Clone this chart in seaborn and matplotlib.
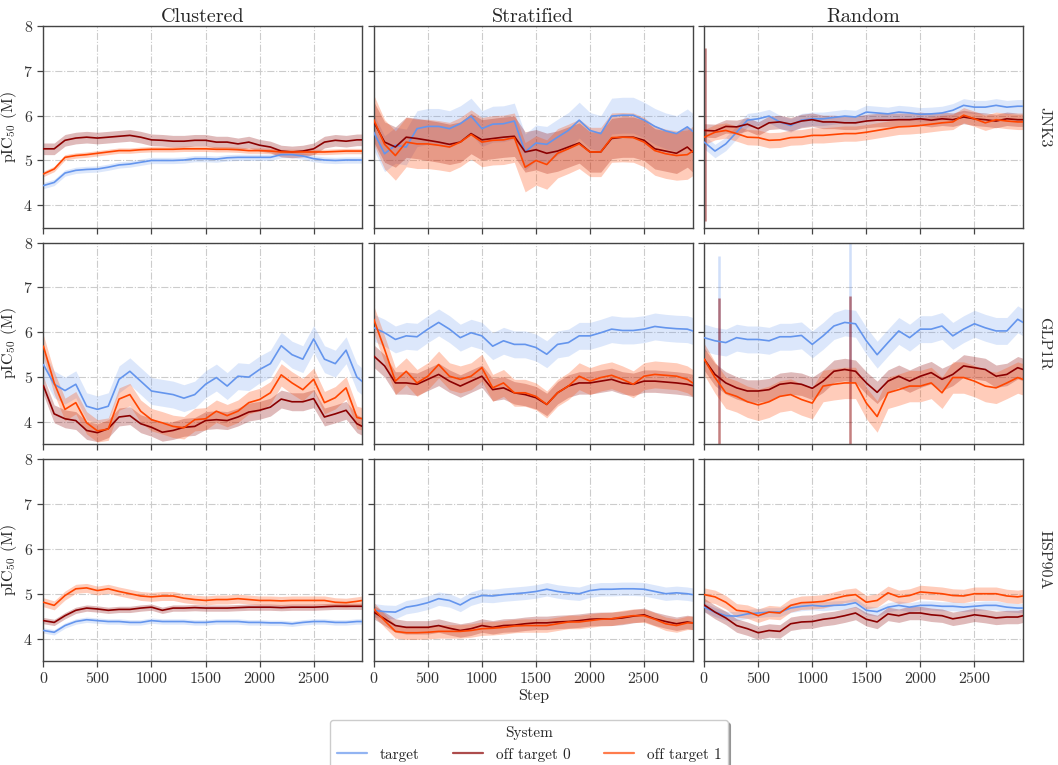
import numpy as np
import pandas as pd
import matplotlib
matplotlib.use("Agg")
import matplotlib.pyplot as plt
import seaborn as sns
from matplotlib.lines import Line2D

# ---------------- data ----------------
STEPS = list(range(0, 3000, 100)) + [2950]
SPLITS = ["Clustered", "Stratified", "Random"]
PROTEINS = ["JNK3", "GLP1R", "HSP90A"]
SYSTEMS = ["target", "off target 0", "off target 1"]
COLORS = {"target": "#6495ED", "off target 0": "#8B0000", "off target 1": "#FF4500"}

# JNK3
JNK3_CLU_T = [4.44,4.51,4.72,4.78,4.80,4.81,4.85,4.90,4.92,4.96,5.00,5.00,5.00,5.01,5.04,5.04,5.03,5.06,5.07,5.07,5.07,5.07,5.13,5.13,5.10,5.04,5.01,5.00,5.01,5.01,5.01]
JNK3_CLU_O0 = [5.26,5.26,5.45,5.50,5.52,5.50,5.52,5.54,5.56,5.52,5.46,5.45,5.43,5.43,5.45,5.45,5.41,5.41,5.37,5.41,5.34,5.30,5.21,5.19,5.21,5.26,5.41,5.45,5.43,5.46,5.46]
JNK3_CLU_O1 = [4.70,4.81,5.07,5.11,5.13,5.16,5.19,5.22,5.22,5.24,5.25,5.25,5.25,5.26,5.26,5.26,5.25,5.25,5.24,5.22,5.22,5.21,5.19,5.19,5.19,5.19,5.19,5.20,5.21,5.21,5.21]
JNK3_STR_T = [5.63,5.15,5.34,5.30,5.71,5.76,5.76,5.71,5.82,5.99,5.71,5.81,5.82,5.88,5.19,5.39,5.36,5.52,5.67,5.90,5.67,5.60,5.99,6.01,6.01,5.90,5.76,5.66,5.60,5.75,5.65]
JNK3_STR_O0 = [5.86,5.41,5.30,5.52,5.49,5.45,5.41,5.36,5.41,5.60,5.46,5.49,5.52,5.54,5.19,5.24,5.16,5.21,5.30,5.39,5.19,5.19,5.49,5.52,5.52,5.45,5.26,5.21,5.16,5.30,5.19]
JNK3_STR_O1 = [5.91,5.36,5.11,5.41,5.37,5.37,5.34,5.30,5.41,5.58,5.41,5.45,5.46,5.51,4.85,5.00,4.91,5.16,5.26,5.37,5.19,5.19,5.51,5.52,5.51,5.41,5.22,5.15,5.11,5.13,5.21]
JNK3_RND_T = [5.41,5.21,5.37,5.63,5.90,5.93,5.99,5.86,5.78,5.90,5.93,5.93,5.96,5.99,5.97,6.08,6.06,6.04,6.08,6.06,6.03,6.04,6.06,6.12,6.23,6.19,6.19,6.23,6.19,6.21,6.21]
JNK3_RND_O0 = [5.67,5.66,5.76,5.75,5.81,5.71,5.84,5.86,5.81,5.88,5.91,5.86,5.86,5.84,5.84,5.88,5.90,5.90,5.91,5.91,5.93,5.90,5.93,5.91,5.97,5.93,5.91,5.88,5.93,5.91,5.91]
JNK3_RND_O1 = [5.52,5.63,5.67,5.60,5.52,5.51,5.45,5.46,5.51,5.52,5.56,5.56,5.58,5.60,5.60,5.63,5.67,5.71,5.75,5.76,5.78,5.81,5.84,5.86,6.01,5.93,5.84,5.91,5.88,5.86,5.86]
# GLP1R
GLP1R_CLU_T = [5.28,4.84,4.70,4.84,4.35,4.28,4.35,4.95,5.13,4.91,4.69,4.65,4.61,4.53,4.61,4.84,4.99,4.80,5.02,5.00,5.17,5.30,5.70,5.50,5.40,5.85,5.40,5.30,5.60,5.00,4.90]
GLP1R_CLU_O0 = [4.81,4.18,4.07,4.03,3.81,3.76,3.85,4.11,4.14,3.96,3.88,3.77,3.81,3.88,3.90,4.03,4.05,4.03,4.11,4.22,4.26,4.33,4.51,4.45,4.45,4.52,4.11,4.18,4.26,3.96,3.90]
GLP1R_CLU_O1 = [5.69,4.87,4.28,4.43,3.98,3.80,3.84,4.51,4.61,4.24,4.05,3.98,3.90,3.87,4.05,4.07,4.24,4.14,4.24,4.43,4.50,4.65,5.05,4.87,4.72,4.95,4.43,4.54,4.76,4.10,4.07]
GLP1R_STR_T = [6.10,5.99,5.84,5.92,5.90,6.07,6.22,6.07,5.88,5.99,5.92,5.69,5.81,5.73,5.73,5.66,5.51,5.73,5.77,5.92,5.92,5.99,6.07,6.04,6.04,6.07,6.13,6.10,6.08,6.07,6.03]
GLP1R_STR_O0 = [5.47,5.25,4.87,4.87,4.84,4.95,5.06,4.91,4.80,4.91,5.02,4.72,4.76,4.65,4.61,4.54,4.39,4.65,4.80,4.87,4.87,4.91,4.95,4.87,4.84,4.91,4.91,4.89,4.87,4.84,4.81]
GLP1R_STR_O1 = [6.29,5.62,4.91,5.13,4.87,5.02,5.28,5.02,4.95,5.02,5.21,4.76,4.87,4.65,4.65,4.57,4.39,4.65,4.80,5.02,4.91,4.99,5.04,4.95,4.84,5.02,5.06,5.04,5.02,4.95,4.87]
GLP1R_RND_T = [5.88,5.81,5.77,5.88,5.84,5.84,5.81,5.90,5.90,5.93,5.73,5.92,6.14,6.22,6.19,5.81,5.50,5.77,6.03,5.88,6.07,6.07,6.14,5.92,6.07,6.19,6.10,6.03,6.03,6.29,6.22]
GLP1R_RND_O0 = [5.40,5.06,4.87,4.76,4.69,4.69,4.72,4.84,4.87,4.84,4.75,4.91,5.13,5.17,5.13,4.87,4.66,4.91,5.02,4.91,5.02,5.10,4.95,5.06,5.25,5.21,5.17,5.02,5.06,5.21,5.17]
GLP1R_RND_O1 = [5.40,4.99,4.65,4.57,4.45,4.38,4.45,4.57,4.61,4.50,4.42,4.80,4.84,4.87,4.87,4.42,4.12,4.65,4.72,4.80,4.80,4.87,4.65,4.99,4.99,4.91,4.80,4.76,4.87,4.99,4.95]
# HSP90A
HSP90A_CLU_T = [4.18,4.14,4.29,4.38,4.42,4.40,4.38,4.38,4.36,4.36,4.40,4.38,4.38,4.38,4.36,4.36,4.38,4.38,4.38,4.36,4.36,4.35,4.35,4.33,4.36,4.38,4.38,4.36,4.36,4.38,4.38]
HSP90A_CLU_O0 = [4.40,4.36,4.51,4.63,4.68,4.66,4.63,4.65,4.65,4.68,4.70,4.63,4.68,4.68,4.69,4.68,4.68,4.68,4.69,4.70,4.70,4.70,4.69,4.70,4.70,4.70,4.71,4.72,4.72,4.72,4.72]
HSP90A_CLU_O1 = [4.81,4.74,4.96,5.11,5.13,5.07,5.11,5.05,5.00,4.95,4.93,4.95,4.95,4.90,4.87,4.85,4.87,4.87,4.89,4.87,4.85,4.85,4.84,4.85,4.85,4.85,4.85,4.81,4.80,4.83,4.85]
HSP90A_STR_T = [4.63,4.60,4.59,4.70,4.74,4.80,4.89,4.85,4.75,4.89,4.96,4.95,4.98,5.00,5.02,5.05,5.10,5.05,5.02,5.00,5.07,5.10,5.10,5.11,5.11,5.10,5.05,5.00,5.02,5.00,4.98]
HSP90A_STR_O0 = [4.59,4.44,4.29,4.25,4.25,4.25,4.29,4.23,4.18,4.22,4.29,4.25,4.29,4.30,4.33,4.35,4.35,4.37,4.38,4.40,4.43,4.44,4.44,4.46,4.50,4.53,4.44,4.38,4.33,4.37,4.35]
HSP90A_STR_O1 = [4.66,4.40,4.16,4.13,4.13,4.14,4.16,4.16,4.16,4.18,4.22,4.23,4.25,4.28,4.29,4.29,4.29,4.33,4.37,4.37,4.40,4.43,4.44,4.48,4.51,4.51,4.43,4.33,4.29,4.35,4.35]
HSP90A_RND_T = [4.70,4.59,4.51,4.50,4.55,4.57,4.59,4.59,4.68,4.72,4.74,4.72,4.74,4.75,4.80,4.63,4.60,4.70,4.74,4.70,4.74,4.74,4.72,4.72,4.70,4.72,4.74,4.74,4.70,4.68,4.68]
HSP90A_RND_O0 = [4.75,4.59,4.46,4.29,4.22,4.13,4.18,4.16,4.33,4.37,4.38,4.43,4.46,4.51,4.57,4.43,4.37,4.55,4.51,4.57,4.57,4.53,4.51,4.44,4.48,4.53,4.50,4.46,4.48,4.48,4.51]
HSP90A_RND_O1 = [4.98,4.93,4.81,4.63,4.60,4.51,4.59,4.57,4.74,4.80,4.81,4.83,4.89,4.95,4.98,4.81,4.85,5.02,4.93,4.96,5.04,5.02,5.00,4.96,4.95,5.00,5.00,5.00,4.95,4.93,4.95]

# band half-widths (target, off target 0, off target 1)
BAND_JNK3 = {"Clustered": [0.07, 0.13, 0.06], "Stratified": [0.40, 0.45, 0.55], "Random": [0.15, 0.15, 0.17]}
BAND_GLP1R = {"Clustered": [0.30, 0.20, 0.25], "Stratified": [0.30, 0.25, 0.30], "Random": [0.30, 0.25, 0.35]}
BAND_HSP90A = {"Clustered": [0.06, 0.07, 0.10], "Stratified": [0.15, 0.15, 0.15], "Random": [0.10, 0.15, 0.15]}

# single-step outliers (protein, split, system, step, low, high)
SPIKES = [
    ("JNK3", "Random", "off target 0", 10, 3.65, 7.5),
    ("GLP1R", "Random", "target", 135, 4.6, 7.7),
    ("GLP1R", "Random", "off target 0", 135, 3.5, 6.77),
    ("GLP1R", "Random", "target", 1350, 5.2, 8.0),
    ("GLP1R", "Random", "off target 0", 1350, 3.5, 6.8),
]

MEANS = {
    ("JNK3", "Clustered"): [JNK3_CLU_T, JNK3_CLU_O0, JNK3_CLU_O1],
    ("JNK3", "Stratified"): [JNK3_STR_T, JNK3_STR_O0, JNK3_STR_O1],
    ("JNK3", "Random"): [JNK3_RND_T, JNK3_RND_O0, JNK3_RND_O1],
    ("GLP1R", "Clustered"): [GLP1R_CLU_T, GLP1R_CLU_O0, GLP1R_CLU_O1],
    ("GLP1R", "Stratified"): [GLP1R_STR_T, GLP1R_STR_O0, GLP1R_STR_O1],
    ("GLP1R", "Random"): [GLP1R_RND_T, GLP1R_RND_O0, GLP1R_RND_O1],
    ("HSP90A", "Clustered"): [HSP90A_CLU_T, HSP90A_CLU_O0, HSP90A_CLU_O1],
    ("HSP90A", "Stratified"): [HSP90A_STR_T, HSP90A_STR_O0, HSP90A_STR_O1],
    ("HSP90A", "Random"): [HSP90A_RND_T, HSP90A_RND_O0, HSP90A_RND_O1],
}
BANDS = {"JNK3": BAND_JNK3, "GLP1R": BAND_GLP1R, "HSP90A": BAND_HSP90A}

# ---------------- style ----------------
sns.set_theme(style="ticks")
plt.rcParams.update({
    "font.family": ["cmr10", "DejaVu Serif"],
    "mathtext.fontset": "cm",
    "axes.formatter.use_mathtext": True,
    "axes.unicode_minus": False,
    "font.size": 11,
    "axes.edgecolor": "#444444",
    "xtick.color": "#444444",
    "ytick.color": "#444444",
    "xtick.labelcolor": "#333333",
    "ytick.labelcolor": "#333333",
})

fig, axes = plt.subplots(3, 3, sharex=True, sharey=True, figsize=(10.58, 7.65), dpi=100)
fig.subplots_adjust(left=0.041, right=0.967, top=0.966, bottom=0.136, wspace=0.036, hspace=0.074)

for i, prot in enumerate(PROTEINS):
    for j, split in enumerate(SPLITS):
        ax = axes[i, j]
        series = MEANS[(prot, split)]
        widths = BANDS[prot][split]
        rows = []
        for sysname, vals in zip(SYSTEMS, series):
            for s, v in zip(STEPS, vals):
                rows.append({"Step": s, "pIC50": v, "System": sysname})
        df = pd.DataFrame(rows)
        for sysname, vals, w in zip(SYSTEMS, series, widths):
            v = np.asarray(vals)
            alpha = 0.22 if sysname == "target" else (0.27 if sysname == "off target 0" else 0.27)
            ax.fill_between(STEPS, v - w, v + w, color=COLORS[sysname], alpha=alpha, linewidth=0, zorder=1)
        for (p, sp, sysname, st, lo, hi) in SPIKES:
            if p == prot and sp == split:
                alpha = 0.3 if sysname == "target" else 0.5
                ax.vlines(st, lo, hi, color=COLORS[sysname], alpha=alpha, lw=1.8, zorder=1)
        sns.lineplot(data=df, x="Step", y="pIC50", hue="System", hue_order=SYSTEMS,
                     palette=COLORS, ax=ax, legend=False, linewidth=1.2, zorder=3)
        ax.set_xlim(0, 2950)
        ax.set_ylim(3.5, 8)
        ax.set_yticks([4, 5, 6, 7, 8])
        ax.set_xticks([0, 500, 1000, 1500, 2000, 2500])
        ax.grid(True, linestyle="-.", color="#cccccc", linewidth=0.8, zorder=0)
        ax.set_axisbelow(True)
        for sp_ in ax.spines.values():
            sp_.set_linewidth(1.0)
        ax.tick_params(direction="out", length=4, width=0.9, labelsize=11.5)
        ax.set_xlabel("")
        ax.set_ylabel("")
        if i == 0:
            ax.set_title(split, fontsize=14.5, pad=3)
        if j == 0:
            ax.set_ylabel(r"pIC$_{50}$ (M)", fontsize=11.5, labelpad=3)
        if j == 2:
            ax.text(1.045, 0.5, prot, rotation=270, transform=ax.transAxes,
                    va="center", ha="left", fontsize=11.5, color="#333333")
        if i == 2 and j == 1:
            ax.set_xlabel("Step", fontsize=11.5, labelpad=2)

handles = [Line2D([0], [0], color=COLORS[s], lw=1.6, alpha=0.7) for s in SYSTEMS]
leg = fig.legend(handles, SYSTEMS, title="System", loc="upper center",
                 bbox_to_anchor=(0.5, 0.069), ncol=3, frameon=True, shadow=True,
                 fancybox=True, fontsize=11, title_fontsize=11, columnspacing=2.2,
                 edgecolor="#cccccc")
fig.savefig("out.png", dpi=100)
